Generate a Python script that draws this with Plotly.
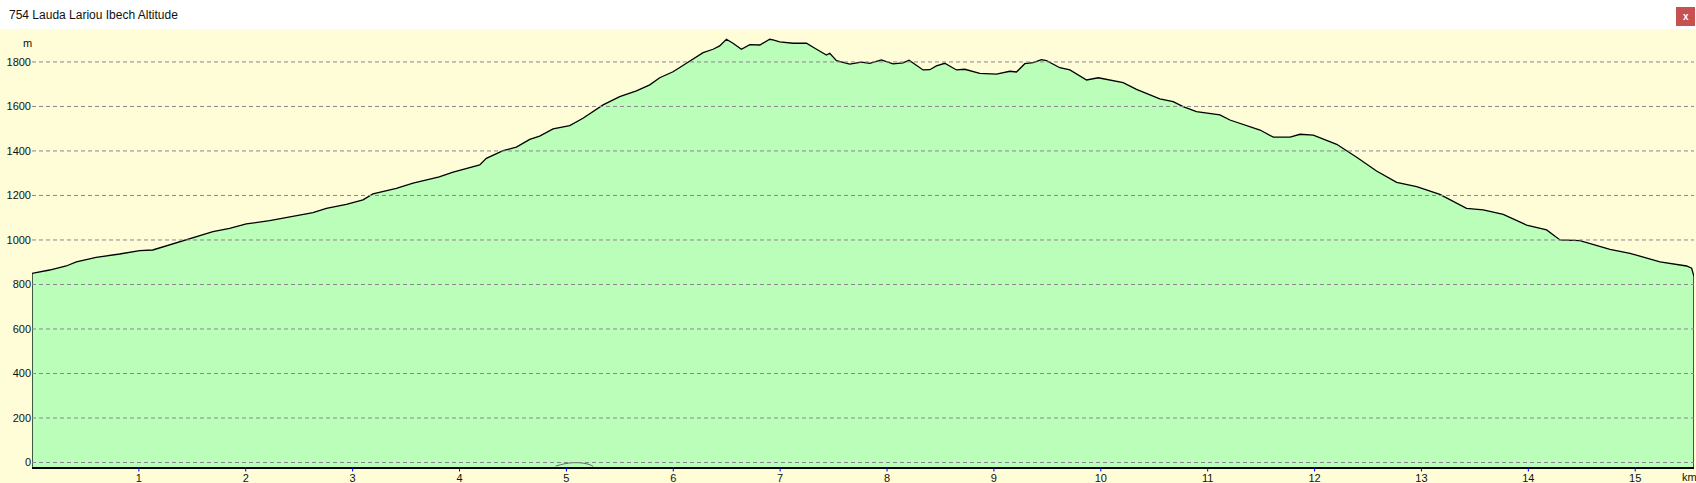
import plotly.graph_objects as go

# ---- data ----
distance_km = [0.00, 0.165, 0.32, 0.415, 0.60, 0.82, 1.007, 1.13, 1.257, 1.444, 1.693, 1.849, 2.005,
               2.223, 2.442, 2.629, 2.754, 2.941, 3.097, 3.19, 3.409, 3.565, 3.752, 3.81, 3.94, 4.064,
               4.189, 4.251, 4.407, 4.532, 4.657, 4.75, 4.875, 5.031, 5.155, 5.343, 5.499, 5.655, 5.78,
               5.873, 5.998, 6.123, 6.279, 6.372, 6.434, 6.497, 6.559, 6.637, 6.716, 6.81, 6.903, 6.933,
               6.996, 7.121, 7.246, 7.34, 7.433, 7.464, 7.527, 7.651, 7.76, 7.838, 7.947, 8.056, 8.15,
               8.206, 8.337, 8.4, 8.462, 8.54, 8.65, 8.727, 8.868, 9.024, 9.149, 9.211, 9.289, 9.367,
               9.445, 9.492, 9.617, 9.711, 9.867, 9.976, 10.053, 10.209, 10.334, 10.552, 10.677, 10.77,
               10.895, 11.114, 11.208, 11.364, 11.49, 11.614, 11.771, 11.864, 11.988, 12.207, 12.394,
               12.58, 12.768, 12.955, 13.172, 13.422, 13.578, 13.765, 13.984, 14.171, 14.296, 14.483,
               14.764, 14.951, 15.232, 15.481, 15.528, 15.55]
altitude_m = [850, 865, 883, 902, 922, 937, 952, 955, 973, 1000, 1037, 1052, 1072,
              1087, 1108, 1123, 1142, 1160, 1180, 1207, 1232, 1255, 1277, 1284, 1305, 1322,
              1337, 1367, 1401, 1417, 1452, 1467, 1499, 1514, 1547, 1607, 1644, 1670, 1697,
              1729, 1756, 1794, 1842, 1857, 1872, 1902, 1884, 1857, 1878, 1876, 1902, 1899,
              1890, 1884, 1884, 1857, 1831, 1839, 1806, 1790, 1799, 1794, 1809, 1791, 1796,
              1808, 1764, 1765, 1782, 1794, 1764, 1767, 1749, 1745, 1758, 1755, 1792, 1797,
              1810, 1806, 1774, 1764, 1719, 1729, 1722, 1707, 1677, 1634, 1622, 1599,
              1577, 1562, 1539, 1514, 1494, 1462, 1462, 1475, 1471, 1430, 1372,
              1310, 1259, 1240, 1205, 1142, 1135, 1115, 1067, 1045, 1000, 997,
              958, 940, 902, 883, 873, 835]

# small secondary trace visible near the bottom around km 5
marker_km = [4.90, 4.98, 5.06, 5.14, 5.22, 5.25]
marker_m = [-16, -6, -1, -2, -10, -18]

x_ticks = list(range(1, 16))
y_ticks = list(range(0, 2000, 200))
title_text = "754 Lauda Lariou Ibech Altitude"

# ---- geometry / style ----
W, H = 1696, 483
ML, MR, MT, MB = 32, 2, 29, 16
PW, PH = W - ML - MR, H - MT - MB
X_RANGE = [0, distance_km[-1]]
Y_RANGE = [-20.2, 1948]

BG = "#FFFDD8"
GREEN = "#BBFEBA"
GRID = "#8C8490"
FONT = "Liberation Sans, Arial, sans-serif"

def px_x(p):
    return (p - ML) / PW

def px_y(p):
    return (H - MB - p) / PH

# closed outline: drops to the bottom of the axis at both ends of the track
outline_x = [distance_km[0]] + distance_km + [distance_km[-1]]
outline_y = [Y_RANGE[0]] + altitude_m + [Y_RANGE[0]]

fig = go.Figure()
fig.add_trace(go.Scatter(x=X_RANGE, y=[Y_RANGE[0]] * 2, mode="lines",
                         line=dict(width=0), hoverinfo="skip", showlegend=False))
fig.add_trace(go.Scatter(x=outline_x, y=outline_y,
                         mode="lines", fill="tonexty", fillcolor=GREEN,
                         line=dict(color="black", width=1.3), showlegend=False))
fig.add_trace(go.Scatter(x=marker_km, y=marker_m, mode="lines",
                         line=dict(color="#666666", width=1, shape="spline"),
                         showlegend=False, hoverinfo="skip"))

shapes = []
for v in y_ticks:
    shapes.append(dict(type="line", xref="paper", yref="y", x0=0, x1=1, y0=v, y1=v,
                       line=dict(color=GRID, width=1, dash="4px,3px"), layer="above"))
# blue tick marks below the x axis
for v in x_ticks:
    shapes.append(dict(type="line", xref="x", yref="paper", x0=v, x1=v, y0=0, y1=-4.5 / PH,
                       line=dict(color="#0000FF", width=1), layer="above"))
# title bar
shapes.append(dict(type="rect", xref="paper", yref="paper", x0=px_x(-5), x1=px_x(W + 5),
                   y0=px_y(29), y1=px_y(-5), fillcolor="white", line=dict(width=0), layer="below"))
# close button
shapes.append(dict(type="rect", xref="paper", yref="paper", x0=px_x(1676), x1=px_x(1695),
                   y0=px_y(26), y1=px_y(7), fillcolor="#C75050", line=dict(width=0), layer="above"))

annotations = [
    dict(text=title_text, xref="paper", yref="paper", x=px_x(7), y=px_y(15), xanchor="left",
         yanchor="middle", showarrow=False, font=dict(family=FONT, size=12, color="#111111")),
    dict(text="<b>x</b>", xref="paper", yref="paper", x=px_x(1685.5), y=px_y(16), xanchor="center",
         yanchor="middle", showarrow=False, font=dict(family=FONT, size=10, color="white")),
    dict(text="m", xref="paper", yref="paper", x=px_x(27), y=px_y(43), xanchor="center",
         yanchor="middle", showarrow=False, font=dict(family=FONT, size=11, color="#111111")),
    dict(text="km", xref="paper", yref="paper", x=px_x(1689), y=px_y(477), xanchor="center",
         yanchor="middle", showarrow=False, font=dict(family=FONT, size=11, color="#111111")),
]

fig.update_layout(
    width=W, height=H,
    margin=dict(l=ML, r=MR, t=MT, b=MB, pad=0, autoexpand=False),
    paper_bgcolor=BG, plot_bgcolor=BG,
    shapes=shapes, annotations=annotations,
    showlegend=False,
    xaxis=dict(range=X_RANGE, tickvals=x_ticks, ticktext=[str(v) for v in x_ticks],
               showgrid=False, zeroline=False, showline=True, linecolor="black", linewidth=2,
               ticks="", automargin=False,
               tickfont=dict(family=FONT, size=11, color="#111111"), fixedrange=True),
    yaxis=dict(range=Y_RANGE, tickvals=y_ticks, ticktext=[str(v) for v in y_ticks],
               showgrid=False, zeroline=False, showline=False, automargin=False,
               ticks="", ticklabelstandoff=0,
               tickfont=dict(family=FONT, size=11, color="#111111"), fixedrange=True),
)

fig.write_html("out.html", config={"displayModeBar": False},
               post_script="document.body.style.margin='0';document.body.style.padding='0';"
                           "document.documentElement.style.overflow='hidden';")
